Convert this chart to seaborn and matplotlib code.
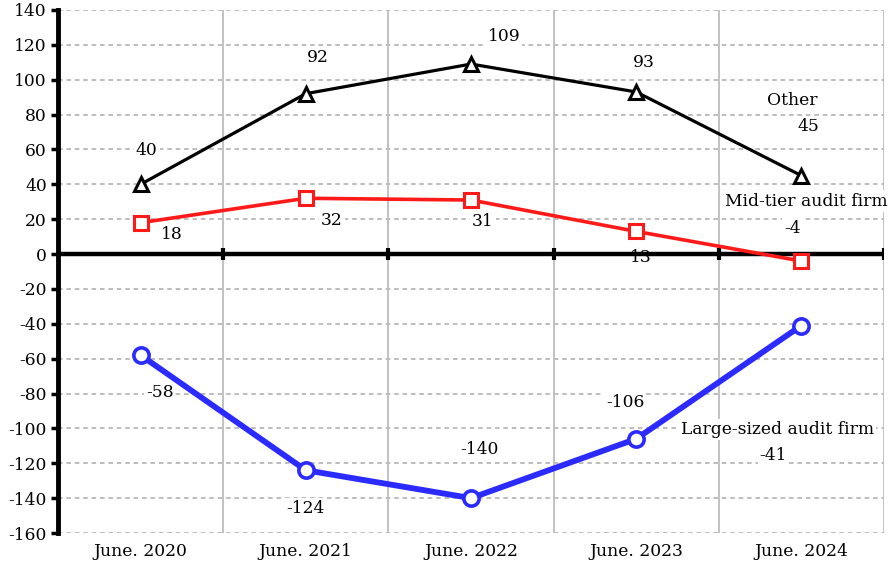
import matplotlib
matplotlib.use("Agg")
import matplotlib.pyplot as plt
import seaborn as sns
import pandas as pd

# Year-on-year change in number of listed-company audit clients, by firm tier
periods = ["June. 2020", "June. 2021", "June. 2022", "June. 2023", "June. 2024"]
other = [40, 92, 109, 93, 45]
mid_tier = [18, 32, 31, 13, -4]
large = [-58, -124, -140, -106, -41]
series_names = ["Other", "Mid-tier audit firm", "Large-sized audit firm"]

y_ticks = list(range(-160, 141, 20))

sns.set_theme(style="white")
plt.rcParams["font.family"] = ["DejaVu Serif", "DejaVu Sans"]

frames = []
for name, vals in zip(series_names, [other, mid_tier, large]):
    frames.append(pd.DataFrame({"pos": range(len(periods)), "value": vals, "series": name}))
df = pd.concat(frames, ignore_index=True)

fig = plt.figure(figsize=(8.88, 5.64), dpi=100)
ax = fig.add_axes([58 / 888, 1 - 533 / 564, (884 - 58) / 888, (533 - 10) / 564])

styles = {
    "Other": dict(color="black", lw=2.3, marker="^", ms=10, mew=2.2),
    "Mid-tier audit firm": dict(color="#ff1a1a", lw=2.6, marker="s", ms=10, mew=2.2),
    "Large-sized audit firm": dict(color="#2b2bff", lw=4.2, marker="o", ms=11, mew=2.6),
}

for name in series_names:
    st = styles[name]
    sub = df[df["series"] == name]
    sns.lineplot(data=sub, x="pos", y="value", ax=ax, color=st["color"], linewidth=st["lw"],
                 marker=st["marker"], markersize=st["ms"], markeredgewidth=st["mew"],
                 markeredgecolor=st["color"], markerfacecolor="white", zorder=5,
                 legend=False)

fs = 12.3

ax.set_xlim(-0.5, len(periods) - 0.5)
ax.set_ylim(-160, 140)
ax.set_yticks(y_ticks)
ax.set_yticklabels([str(v) for v in y_ticks], fontsize=fs)
ax.set_xticks(range(len(periods)))
ax.set_xticklabels(periods, fontsize=fs)
ax.set_xlabel("")
ax.set_ylabel("")

# grid: dashed horizontals, solid verticals on category boundaries
for v in y_ticks:
    ax.axhline(v, color="#ababab", lw=1.1, ls=(0, (3, 2.5)), zorder=1)
bounds = [i + 0.5 for i in range(len(periods))]
for b in bounds:
    ax.axvline(b, color="#bdbdbd", lw=1.3, zorder=1)

for s in ["top", "right", "bottom"]:
    ax.spines[s].set_visible(False)
ax.spines["left"].set_linewidth(3.5)
ax.spines["left"].set_color("black")
ax.spines["left"].set_zorder(6)
ax.tick_params(axis="y", length=5, width=2.5, color="black", pad=3, labelcolor="black", left=True)
ax.tick_params(axis="x", length=0, pad=7, labelcolor="black")

# zero axis with category-boundary ticks
ax.axhline(0, color="black", lw=3.2, zorder=4)
ax.vlines(bounds, -3.2, 3.2, color="black", lw=3.0, zorder=4)

label_kw = dict(textcoords="offset pixels", ha="center", va="center", fontsize=fs,
                color="black", zorder=3.5,
                bbox=dict(facecolor="white", edgecolor="none", pad=1.5))

other_off = [(6, 34), (12, 36), (33, 28), (8, 29), (7, 49)]
mid_off = [(31, -12), (26, -22), (12, -21), (5, -26), (-9, 33)]
large_off = [(19, -37), (0, -38), (8, 49), (-11, 36), (-28, -130)]

for vals, offs in [(other, other_off), (mid_tier, mid_off), (large, large_off)]:
    for i, (v, off) in enumerate(zip(vals, offs)):
        ax.annotate(str(v), xy=(i, v), xytext=off, **label_kw)

# series names next to the last point
last = len(periods) - 1
ax.annotate(series_names[0], xy=(last, other[-1]), xytext=(-9, 75), **label_kw)
ax.annotate(series_names[1], xy=(last, mid_tier[-1]), xytext=(5, 60), **label_kw)
ax.annotate(series_names[2], xy=(last, large[-1]), xytext=(-24, -104), **label_kw)

fig.savefig("out.png", dpi=100, facecolor="white")
